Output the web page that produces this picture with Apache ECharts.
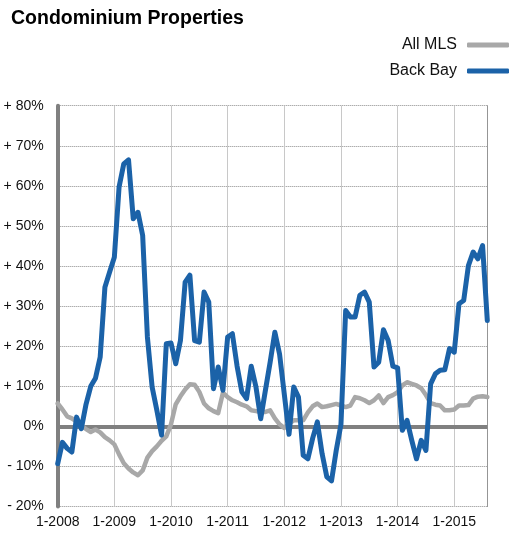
<!DOCTYPE html>
<html><head><meta charset="utf-8">
<script src="https://cdn.jsdelivr.net/npm/echarts@6/dist/echarts.min.js"></script>
<style>html,body{margin:0;padding:0;background:#fff}#c{width:519px;height:542px}</style>
</head><body><div id="c"></div>
<script>
const years = [2008, 2009, 2010, 2011, 2012, 2013, 2014, 2015];
const monthsInLastYear = 8;
const allMLS = [
  5.7, 4.2, 2.5, 2.0, 1.2, 0.3, -0.7, -1.4, -0.8, -1.5, -2.7, -3.5,
  -4.5, -7.0, -9.2, -10.5, -11.5, -12.2, -11.0, -7.8, -6.2, -5.0, -3.6, -2.5,
  0.5, 5.5, 7.5, 9.2, 10.5, 10.4, 8.6, 5.7, 4.5, 3.8, 3.3, 8.4,
  7.3, 6.5, 6.0, 5.4, 5.0, 4.0, 3.8, 3.6, 3.6, 4.0, 2.0, 0.5,
  -0.4, 0.7, 1.5, 1.5, 1.5, 3.5, 5.0, 5.7, 4.8, 5.0, 5.3, 5.6,
  5.2, 4.8, 5.2, 7.3, 7.0, 6.5, 5.8, 6.5, 7.7, 5.8, 7.3, 7.8,
  8.5, 10.2, 11.0, 10.6, 10.2, 9.5, 7.8, 5.8, 5.4, 5.2, 4.0, 4.0,
  4.2, 5.2, 5.2, 5.3, 6.9, 7.4, 7.5, 7.3
];
const backBay = [
  -9.3, -4.0, -5.5, -6.4, 2.3, -0.6, 5.5, 10.0, 12.0, 17.3, 34.7, 38.5,
  42.2, 59.7, 65.5, 66.5, 51.8, 53.4, 47.6, 22.3, 9.8, 4.0, -2.2, 20.6,
  20.8, 15.6, 21.4, 36.0, 37.7, 21.4, 21.0, 33.5, 31.0, 9.4, 14.8, 9.0,
  22.3, 23.1, 15.0, 8.6, 6.9, 15.0, 9.8, 1.9, 9.0, 16.0, 23.5, 18.0,
  8.0, -2.0, 9.8, 7.3, -7.2, -8.1, -3.0, 1.1, -6.8, -12.6, -13.6, -6.0,
  0.5, 28.9, 27.3, 27.3, 32.7, 33.5, 31.0, 14.8, 16.0, 24.1, 21.4, 15.0,
  14.6, -1.0, 1.5, -3.5, -8.1, -3.5, -6.0, 10.6, 13.1, 14.0, 14.1, 19.4,
  18.5, 30.6, 31.4, 40.1, 43.5, 41.8, 45.1, 26.4
];
const yTicks = { min: -20, max: 80, step: 10 };

const categories = [];
years.forEach((y, yi) => {
  const n = yi === years.length - 1 ? monthsInLastYear : 12;
  for (let m = 1; m <= n; m++) categories.push(m + '-' + y);
});

const chart = echarts.init(document.getElementById('c'));
const font = "'Liberation Sans', Arial, sans-serif";
chart.setOption({
  animation: false,
  title: {
    text: 'Condominium Properties', left: 6, top: 4,
    textStyle: { fontFamily: font, fontWeight: 'bold', fontSize: 19.5, color: '#000' }
  },
  legend: {
    data: ['All MLS', 'Back Bay'], orient: 'vertical', right: 10, top: 37, padding: 0,
    align: 'right', icon: 'roundRect', itemWidth: 42, itemHeight: 5, itemGap: 10,
    textStyle: { fontFamily: font, fontSize: 16, color: '#111', padding: [0, 5, 0, 0] }
  },
  grid: { left: 57.7, right: 31.7, top: 105.7, bottom: 35.5, containLabel: false },
  xAxis: {
    type: 'category', data: categories, boundaryGap: false,
    axisLine: { show: false }, axisTick: { show: false },
    axisLabel: {
      interval: (i) => i % 12 === 0, fontFamily: font, fontSize: 14, color: '#111', margin: 9
    },
    splitLine: { show: true, interval: (i) => i % 12 === 0 && i > 0, lineStyle: { color: '#c8c8c8', width: 1 } }
  },
  yAxis: [{
    type: 'value', min: yTicks.min, max: yTicks.max, interval: yTicks.step,
    axisLine: { show: true, lineStyle: { color: '#808080', width: 4 } },
    axisTick: { show: false },
    axisLabel: {
      fontFamily: font, fontSize: 14, color: '#111', margin: 14,
      formatter: (v) => v > 0 ? '+ ' + v + '%' : (v < 0 ? '- ' + (-v) + '%' : '0%')
    },
    splitLine: { lineStyle: { type: 'dotted', color: '#8a8a8a', width: 1 } }
  }, {
    type: 'value', position: 'right', min: yTicks.min, max: yTicks.max, interval: yTicks.step,
    axisLine: { show: true, lineStyle: { type: 'dotted', color: '#8a8a8a', width: 1 } },
    axisTick: { show: false }, axisLabel: { show: false }, splitLine: { show: false }
  }],
  series: [{
    name: 'All MLS', type: 'line', data: allMLS, showSymbol: false, symbol: 'none',
    lineStyle: { color: '#a8a8a8', width: 4.5, cap: 'round', join: 'round' },
    itemStyle: { color: '#a8a8a8' }, z: 3,
    markLine: {
      silent: true, symbol: 'none', label: { show: false },
      lineStyle: { color: '#808080', width: 4, type: 'solid' },
      data: [{ yAxis: 0 }], z: 2
    }
  }, {
    name: 'Back Bay', type: 'line', data: backBay, showSymbol: false, symbol: 'none',
    lineStyle: { color: '#1b62a8', width: 5, cap: 'round', join: 'round' },
    itemStyle: { color: '#1b62a8' }, z: 4
  }]
});
</script>
</body></html>
